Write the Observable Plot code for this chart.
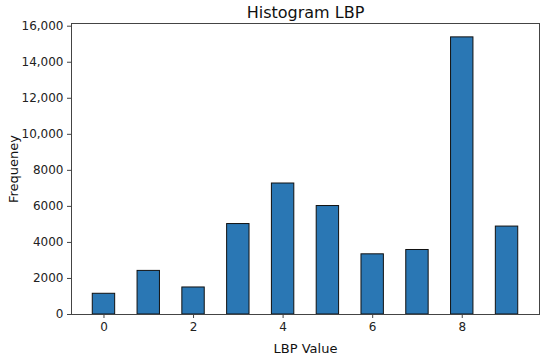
<!DOCTYPE html>
<html>
<head>
<meta charset="utf-8">
<script src="https://cdn.jsdelivr.net/npm/d3@7"></script>
<script src="https://cdn.jsdelivr.net/npm/@observablehq/plot@0.6"></script>
<style>
  html, body { margin: 0; padding: 0; background: #fff; }
  svg { display: block; }
</style>
</head>
<body>
<div id="chart"></div>
<script>
const lbpValues = [0, 1, 2, 3, 4, 5, 6, 7, 8, 9];
const frequencies = [1150, 2420, 1500, 5020, 7270, 6020, 3340, 3580, 15380, 4880];
const xTicks = [0, 2, 4, 6, 8];
const yTicks = [0, 2000, 4000, 6000, 8000, 10000, 12000, 14000, 16000];
const titleText = "Histogram LBP";
const xLabel = "LBP Value";
const yLabel = "Frequeney";

const data = lbpValues.map((v, i) => ({v, n: frequencies[i]}));
const fmt = d => d >= 10000 ? d3.format(",")(d) : String(d);
const font = "DejaVu Sans, sans-serif";

const chart = Plot.plot({
  width: 550,
  height: 359,
  marginLeft: 71,
  marginRight: 11,
  marginTop: 23,
  marginBottom: 45,
  style: {fontFamily: font, fontSize: "12px", color: "#222", background: "#fff"},
  x: {type: "linear", domain: [-0.725, 9.725]},
  y: {domain: [0, 16150]},
  marks: [
    Plot.rectY(data, {
      x1: d => d.v - 0.25,
      x2: d => d.v + 0.25,
      y1: 0,
      y2: "n",
      fill: "#2a77b4",
      stroke: "#111",
      strokeWidth: 1
    }),
    Plot.frame({stroke: "#444", strokeWidth: 1}),
    Plot.axisX({ticks: xTicks, tickSize: 4, tickPadding: 4, label: null, tickFormat: d => String(d), stroke: "#444"}),
    Plot.axisY({ticks: yTicks, tickSize: 4, tickPadding: 4, label: null, tickFormat: fmt, stroke: "#444"}),
    Plot.text([titleText], {frameAnchor: "top", dy: -11, fontSize: 16, fill: "#111", lineAnchor: "middle", textAnchor: "middle"}),
    Plot.text([xLabel], {frameAnchor: "bottom", dy: 34, fontSize: 13, fill: "#111", lineAnchor: "middle", textAnchor: "middle"}),
    Plot.text([yLabel], {frameAnchor: "left", dx: -58, rotate: -90, fontSize: 13, fill: "#111", lineAnchor: "middle", textAnchor: "middle"})
  ]
});
document.getElementById("chart").appendChild(chart);
</script>
</body>
</html>
